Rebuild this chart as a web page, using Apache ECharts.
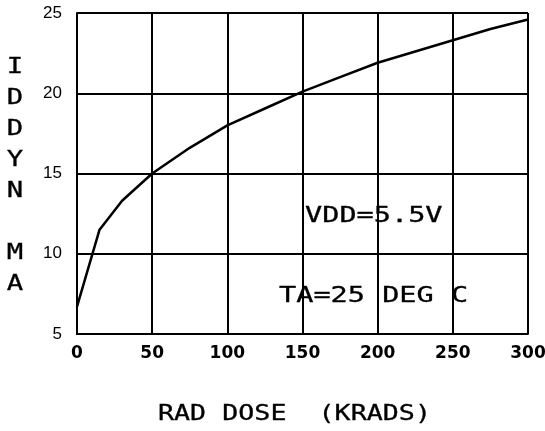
<!DOCTYPE html>
<html>
<head>
<meta charset="utf-8">
<script src="https://cdn.jsdelivr.net/npm/echarts@6/dist/echarts.min.js"></script>
<style>
  html, body { margin: 0; padding: 0; background: #fff; }
  #chart { width: 545px; height: 431px; }
</style>
</head>
<body>
<div id="chart"></div>
<script>
// dose (krads) and IDDYN (mA)
var doseK = [0, 15, 30, 50, 75, 100, 125, 150, 175, 200, 225, 250, 275, 300];
var iddynMa = [6.7, 11.5, 13.3, 15.0, 16.6, 18.0, 19.05, 20.1, 21.0, 21.9, 22.6, 23.3, 24.0, 24.6];
var xTicks = [0, 50, 100, 150, 200, 250, 300];
var yTicks = [5, 10, 15, 20, 25];

var chart = echarts.init(document.getElementById('chart'));

var pts = [];
for (var i = 0; i < doseK.length; i++) {
  pts.push([doseK[i], iddynMa[i]]);
}

// plotter-like lettering: mono font stretched sideways
function plotText(txt, x, y, sx, extra) {
  return {
    type: 'text', x: x, y: y, scaleX: sx, silent: true,
    style: Object.assign({
      text: txt, fontFamily: 'DejaVu Sans Mono', fontSize: 21,
      fill: '#000', stroke: '#000', lineWidth: 0.3, verticalAlign: 'middle'
    }, extra || {})
  };
}

var option = {
  backgroundColor: '#fff',
  animation: false,
  grid: { left: 77, right: 17, top: 13, bottom: 97, outerBoundsMode: 'none' },
  xAxis: {
    type: 'value',
    min: xTicks[0],
    max: xTicks[xTicks.length - 1],
    interval: 50,
    axisLine: { show: true, lineStyle: { color: '#000', width: 2 } },
    axisTick: { show: false },
    axisLabel: { fontFamily: 'DejaVu Sans', fontWeight: 'bold', fontSize: 17, color: '#000', margin: 11 },
    splitLine: { show: true, lineStyle: { color: '#000', width: 2 } }
  },
  yAxis: {
    type: 'value',
    min: yTicks[0],
    max: yTicks[yTicks.length - 1],
    interval: 5,
    axisLine: { show: true, lineStyle: { color: '#000', width: 2 } },
    axisTick: { show: false },
    axisLabel: { fontFamily: 'Liberation Sans', fontSize: 17, color: '#000', margin: 15 },
    splitLine: { show: true, lineStyle: { color: '#000', width: 2 } }
  },
  graphic: [
    plotText('I\nD\nD\nY\nN\n\nM\nA', 15, 176, 1.3, { align: 'center', lineHeight: 31 }),
    plotText('RAD DOSE  (KRADS)', 158, 415, 1.27),
    plotText('VDD=5.5V', 305, 217, 1.36),
    plotText('TA=25 DEG C', 279, 297, 1.36)
  ],
  series: [{
    type: 'line',
    data: pts,
    showSymbol: false,
    smooth: false,
    lineStyle: { color: '#000', width: 2.5 }
  }]
};

chart.setOption(option);
</script>
</body>
</html>
